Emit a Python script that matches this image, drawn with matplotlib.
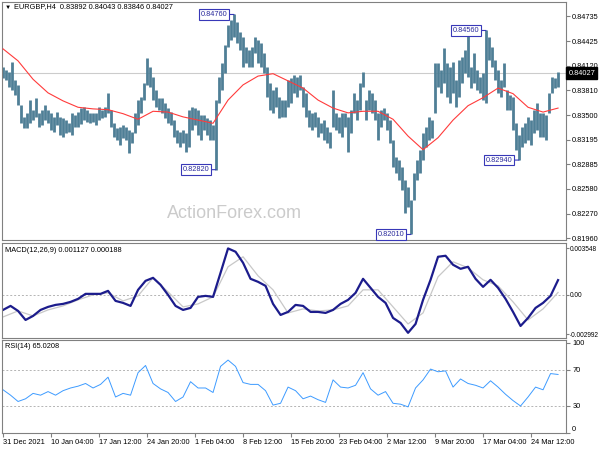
import numpy as np
import matplotlib
matplotlib.use("Agg")
from matplotlib import pyplot as plt
from matplotlib import transforms

plt.rcParams["font.family"] = ["Liberation Sans", "DejaVu Sans"]
plt.rcParams["font.size"] = 5.3

# EURGBP H4 bars, every 2nd bar, prices in 1e-4 units
highs = [8410, 8407, 8404, 8416, 8394, 8388, 8363, 8348, 8353, 8369,
         8357, 8371, 8353, 8357, 8363, 8357, 8353, 8348, 8354, 8348,
         8347, 8344, 8340, 8353, 8350, 8354, 8359, 8360, 8357, 8353,
         8353, 8353, 8360, 8357, 8360, 8378, 8357, 8340, 8334, 8335,
         8338, 8335, 8332, 8329, 8353, 8369, 8373, 8390, 8422, 8410,
         8398, 8382, 8371, 8371, 8365, 8359, 8354, 8344, 8332, 8329,
         8332, 8328, 8357, 8360, 8359, 8357, 8350, 8350, 8347, 8344,
         8338, 8369, 8398, 8415, 8438, 8463, 8469, 8476, 8466, 8454,
         8448, 8435, 8432, 8435, 8448, 8444, 8440, 8428, 8410, 8390,
         8382, 8385, 8373, 8369, 8369, 8394, 8396, 8400, 8398, 8400,
         8385, 8378, 8357, 8353, 8354, 8348, 8340, 8344, 8335, 8329,
         8382, 8353, 8348, 8353, 8353, 8348, 8357, 8378, 8369, 8390,
         8404, 8369, 8382, 8378, 8369, 8353, 8357, 8359, 8353, 8344,
         8319, 8298, 8294, 8285, 8269, 8260, 8244, 8278, 8294, 8307,
         8328, 8335, 8348, 8344, 8415, 8415, 8407, 8434, 8415, 8410,
         8416, 8394, 8419, 8423, 8432, 8453, 8410, 8428, 8407, 8398,
         8403, 8456, 8448, 8435, 8419, 8407, 8394, 8415, 8382, 8375,
         8373, 8340, 8325, 8335, 8340, 8348, 8344, 8357, 8365, 8353,
         8353, 8350, 8378, 8398, 8396, 8404]
lows = [8396, 8394, 8385, 8382, 8375, 8363, 8340, 8334, 8334, 8340,
        8344, 8348, 8335, 8338, 8344, 8340, 8332, 8329, 8338, 8325,
        8323, 8328, 8329, 8325, 8335, 8335, 8339, 8344, 8342, 8340,
        8342, 8338, 8344, 8347, 8348, 8353, 8335, 8323, 8319, 8313,
        8322, 8319, 8303, 8315, 8328, 8338, 8353, 8369, 8388, 8385,
        8369, 8360, 8357, 8353, 8347, 8340, 8338, 8323, 8315, 8310,
        8315, 8304, 8310, 8332, 8338, 8325, 8319, 8332, 8325, 8319,
        8319, 8282, 8365, 8382, 8403, 8435, 8444, 8448, 8440, 8432,
        8410, 8415, 8410, 8410, 8428, 8415, 8410, 8403, 8373, 8357,
        8353, 8360, 8347, 8348, 8348, 8360, 8365, 8378, 8373, 8382,
        8360, 8348, 8335, 8332, 8335, 8323, 8328, 8319, 8315, 8309,
        8335, 8332, 8328, 8323, 8335, 8304, 8328, 8353, 8344, 8357,
        8385, 8344, 8357, 8353, 8344, 8319, 8335, 8344, 8332, 8315,
        8285, 8278, 8269, 8257, 8228, 8235, 8201, 8244, 8269, 8278,
        8294, 8310, 8319, 8322, 8353, 8385, 8378, 8390, 8373, 8365,
        8378, 8360, 8373, 8390, 8403, 8398, 8384, 8390, 8382, 8378,
        8369, 8365, 8419, 8410, 8394, 8378, 8373, 8385, 8357, 8357,
        8332, 8307, 8294, 8310, 8315, 8319, 8313, 8328, 8332, 8323,
        8323, 8319, 8353, 8378, 8384, 8385]

# moving average, every 10th bar
ma = [8433, 8418, 8395, 8378, 8368, 8360, 8358, 8357, 8352, 8345,
      8355, 8354, 8348, 8344, 8340, 8369, 8388, 8399, 8402, 8393,
      8384, 8369, 8359, 8353, 8355, 8355, 8345, 8324, 8307, 8322,
      8344, 8362, 8372, 8384, 8377, 8360, 8354, 8359]

# MACD main (every 5th bar) and signal (every 10th bar), 1e-6 units
macd_main = [-1149, -843, -1226, -1915, -1609, -1149, -919, -766, -689, -536,
             -306, 77, 77, 77, 306, -460, -613, -843, 383, 1072,
             1302, 766, 0, -843, -1149, -996, -153, -77, -153, 1685,
             3548, 3294, 2451, 1226, 996, 689, -689, -1532, -1302, -766,
             -843, -1302, -1302, -1379, -1149, -689, -383, 153, 1226, 536,
             -153, -613, -1762, -2145, -2900, -2221, -383, 1149, 2911, 2987,
             2298, 1991, 2145, 1226, 613, 1149, 536, -306, -1302, -2375,
             -1762, -996, -613, -77, 1127]
macd_signal = [-1685, -1226, -1609, -1149, -843, -383, 0, 153, -460, -77,
               1302, 230, -919, -689, -153, 2145, 2911, 1455, 383, -1379,
               -1072, -1226, -1149, -843, 383, 383, -919, -2221, -1379, 1379,
               2528, 2068, 1149, 689, -536, -1915, -1072, 188]

# RSI(14), every 5th bar
rsi = [48, 42, 35, 38, 44, 42, 46, 42, 47, 50,
       52, 55, 50, 54, 62, 40, 44, 42, 67, 75,
       55, 49, 45, 35, 40, 57, 50, 50, 45, 74,
       81, 74, 56, 54, 54, 47, 31, 33, 51, 47,
       38, 41, 37, 34, 59, 51, 50, 53, 67, 49,
       42, 46, 33, 32, 29, 50, 59, 71, 68, 69,
       51, 60, 55, 53, 50, 58, 51, 43, 36, 30,
       40, 51, 48, 66, 65.02]

time_labels = ["31 Dec 2021", "10 Jan 04:00", "17 Jan 12:00", "24 Jan 20:00",
               "1 Feb 04:00", "8 Feb 12:00", "15 Feb 20:00", "23 Feb 04:00",
               "2 Mar 12:00", "9 Mar 20:00", "17 Mar 04:00", "24 Mar 12:00"]
price_ticks = [0.84735, 0.84425, 0.84120, 0.83810, 0.83500,
               0.83195, 0.82885, 0.82580, 0.82270, 0.81960]
# swing points marked on the chart: (sampled bar number, use high?)
swings = [(77, True), (71, False), (136, False), (161, True), (172, False)]
last_close = 0.84027

highs = np.array(highs) / 1e4
lows = np.array(lows) / 1e4
bar_x = np.arange(0, 371, 2)
ma_x = np.arange(0, 371, 10)
macd_x = np.arange(0, 371, 5)
sig_x = np.arange(0, 371, 10)

fig = plt.figure(figsize=(6, 4.5), dpi=100)
ax1 = fig.add_axes([2 / 600, 1 - 240 / 450, 564 / 600, 238 / 450])
ax2 = fig.add_axes([2 / 600, 1 - 338 / 450, 564 / 600, 95 / 450])
ax3 = fig.add_axes([2 / 600, 1 - 433 / 450, 564 / 600, 93 / 450])

edge = "#808080"
for ax in (ax1, ax2, ax3):
    ax.set_xlim(-0.7, 375.3)
    for s in ax.spines.values():
        s.set_color(edge)
        s.set_linewidth(0.8)
    ax.yaxis.tick_right()
    ax.tick_params(axis="y", length=3, pad=1.5, color=edge, labelsize=5.3)
    ax.tick_params(axis="x", length=0, labelbottom=False)

# price panel
ax1.axhline(last_close, color="#cccccc", lw=0.8, zorder=0)
ax1.vlines(bar_x, lows, highs, color="#4f7f96", lw=2.0, zorder=2)
ax1.plot(ma_x, np.array(ma) / 1e4, color="#ff3b3b", lw=0.8, zorder=3)
ax1.set_ylim(0.81941, 0.84916)
ax1.set_yticks(price_ticks)
ax1.set_yticklabels([f"{p:.5f}" for p in price_ticks])

for i, is_high in swings:
    price = highs[i] if is_high else lows[i]
    ax1.annotate(f"{price:.5f}", xy=(bar_x[i], price), xytext=(-5, 0),
                 textcoords="offset points", ha="right", va="center",
                 color="#2a2a9c", fontsize=5.3,
                 bbox=dict(boxstyle="square,pad=0.25", fc="white",
                           ec="#3838b8", lw=0.8),
                 arrowprops=dict(arrowstyle="-", color="#3838b8", lw=0.8,
                                 shrinkA=0, shrinkB=0))

trans = transforms.blended_transform_factory(ax1.transAxes, ax1.transData)
ax1.text(1.004, last_close, f"{last_close:.5f}", transform=trans, ha="left",
         va="center", color="white", fontsize=5.3, clip_on=False,
         bbox=dict(boxstyle="square,pad=0.3", fc="black", ec="black"))

ax1.text(232 / 564, 1 - 211 / 238, "ActionForex.com", transform=ax1.transAxes,
         ha="center", va="center", fontsize=13, color="#cbcbcb", zorder=1)

# MACD panel
ax2.axhline(0, color="#b4b4b4", lw=0.7, ls=(0, (2, 2)))
ax2.plot(sig_x, np.array(macd_signal) / 1e6, color="#c8c8c8", lw=0.9)
ax2.plot(macd_x, np.array(macd_main) / 1e6, color="#1c1c8c", lw=1.6)
ax2.set_ylim(-0.003294, 0.003962)
ax2.set_yticks([0.003548, 0.0, -0.002992])
ax2.set_yticklabels(["0.003548", "0.00", "-0.002992"])
ax2.tick_params(axis="y", length=2, pad=0.8, labelsize=4.7)

# RSI panel
for lvl in (30, 70):
    ax3.axhline(lvl, color="#b4b4b4", lw=0.7, ls=(0, (2, 2)))
ax3.plot(macd_x, rsi, color="#3d9bff", lw=0.7)
ax3.set_ylim(0, 103.3)
ax3.set_yticks([0, 30, 70, 100])
ax3.set_yticklabels(["0", "30", "70", "100"])
ax3.get_yticklabels()[0].set_va("bottom")

ax3.set_xticks(np.arange(0, 353, 32))
ax3.set_xticklabels(time_labels)
ax3.tick_params(axis="x", length=3, color=edge, labelbottom=True, pad=1.5,
                labelsize=5.3, direction="out")
for lbl in ax3.get_xticklabels():
    lbl.set_ha("left")

fig.text(5 / 600, 1 - 7 / 450, "\u25bc", fontsize=4.5, va="center")
fig.text(14 / 600, 1 - 7 / 450, "EURGBP,H4  0.83892 0.84043 0.83846 0.84027",
         va="center")
fig.text(5 / 600, 1 - 250 / 450, "MACD(12,26,9) 0.001127 0.000188", va="center")
fig.text(5 / 600, 1 - 347 / 450, "RSI(14) 65.0208", va="center")

fig.savefig("out.png", dpi=100)
